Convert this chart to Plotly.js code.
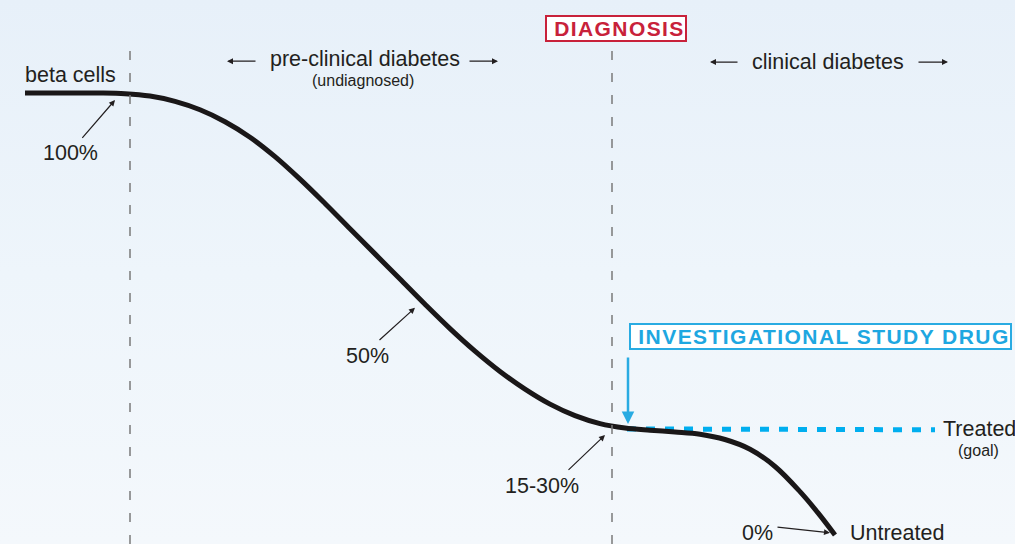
<!DOCTYPE html>
<html>
<head>
<meta charset="utf-8">
<script src="https://cdn.plot.ly/plotly-3.0.1.min.js"></script>
<style>
html,body{margin:0;padding:0;}
body{width:1015px;height:544px;overflow:hidden;background:linear-gradient(to bottom,#e7f0f9 0%,#eef5fb 50%,#f4f8fc 100%);}
#chart{width:1015px;height:544px;}
</style>
</head>
<body>
<div id="chart"></div>
<script>
// Time (arbitrary units) and remaining beta-cell mass (%)
var timeUntreated = [25, 50, 75, 100, 125, 150, 175, 200, 225, 250, 275, 300, 325, 350, 375, 400, 425, 450, 475, 500, 525, 550, 575, 600, 625, 650, 675, 700, 725, 750, 775, 800, 818, 835];
var betaUntreated = [100, 100, 100, 100, 99.85, 99.3, 98.1, 96.2, 93.5, 90.0, 85.6, 80.5, 75.0, 69.3, 63.6, 57.9, 52.2, 46.7, 41.6, 37.0, 33.0, 29.6, 27.0, 25.2, 24.2, 23.7, 23.3, 22.8, 21.6, 19.4, 15.5, 9.8, 5.0, 0];
var timeTreated = [627, 935];
var betaTreated = [24.0, 23.8];
var phaseBoundaries = [130, 612];

var font = "Liberation Sans, Arial, Helvetica, sans-serif";
var ink = "#231f20";
var fs = 21.5, fsSmall = 16;

var traces = [
  {x: timeTreated, y: betaTreated, mode: "lines", line: {color: "#00aeef", width: 5, dash: "9px,10px"}, hoverinfo: "skip"},
  {x: timeUntreated, y: betaUntreated, mode: "lines", line: {color: "#1a1718", width: 5, shape: "spline", smoothing: 1}, hoverinfo: "skip"}
];

function txt(x, y, t, size, anchor, extra) {
  var a = {x: x, y: y, xref: "x", yref: "y", text: t, showarrow: false, xanchor: anchor || "center", yanchor: "middle",
           font: {family: font, size: size, color: ink}};
  if (extra) for (var k in extra) a[k] = extra[k];
  return a;
}
function arr(hx, hy, tx, ty, color, w, size) {
  return {x: hx, y: hy, ax: tx, ay: ty, xref: "x", yref: "y", axref: "x", ayref: "y", text: "", showarrow: true,
          arrowhead: 2, arrowsize: size || 1, arrowwidth: w || 1.2, arrowcolor: color || ink, standoff: 0, startstandoff: 0};
}

var annotations = [
  txt(23, 104.1, "beta cells", fs, "left"),
  txt(70, 86.4, "100%", fs),
  arr(115, 98.4, 81, 89.5),
  txt(365, 107.6, "pre-clinical diabetes", fs),
  txt(363, 102.9, "(undiagnosed)", fsSmall),
  arr(227, 107.2, 257, 107.2),
  arr(498, 107.2, 468, 107.2),
  txt(828, 107.0, "clinical diabetes", fs),
  arr(710, 107.0, 739, 107.0),
  arr(948, 107.0, 917, 107.0),
  txt(616, 114.6, '<b><span style="letter-spacing:1.4px">&nbsp;DIAGNOSIS</span></b>', 21, "center",
      {font: {family: font, size: 21, color: "#c8213a"}, bgcolor: "#ffffff", bordercolor: "#c8213a", borderwidth: 2, borderpad: 0}),
  txt(367, 40.5, "50%", fs),
  arr(415, 51.4, 378, 43.8),
  txt(542, 11.1, "15-30%", fs),
  arr(605, 22.6, 567, 14.4),
  txt(757, 0.5, "0%", fs),
  arr(830, 0.5, 776, 1.8),
  txt(848, 0.5, "Untreated", fs, "left"),
  txt(941, 24.0, "Treated", fs, "left"),
  txt(978, 19.2, "(goal)", fsSmall),
  txt(820, 45.0, '<b><span style="letter-spacing:1.45px">&nbsp;INVESTIGATIONAL STUDY DRUG</span></b>', 21, "center",
      {font: {family: font, size: 21, color: "#1ea7e1"}, bgcolor: "#ffffff", bordercolor: "#29abe2", borderwidth: 2, borderpad: 0}),
  arr(628, 25.1, 628, 40.5, "#29abe2", 2.5, 1)
];

var shapes = phaseBoundaries.map(function (b) {
  return {type: "line", xref: "x", yref: "paper", x0: b, x1: b, y0: 0, y1: 0.918,
          line: {color: "#7a7a7a", width: 1.5, dash: "9px,13px"}};
});

var layout = {
  width: 1015, height: 544,
  margin: {l: 0, r: 0, t: 0, b: 0},
  paper_bgcolor: "rgba(0,0,0,0)", plot_bgcolor: "rgba(0,0,0,0)",
  showlegend: false,
  xaxis: {range: [0, 1015], visible: false, fixedrange: true},
  yaxis: {range: [-2.04, 121.04], visible: false, fixedrange: true},
  annotations: annotations,
  shapes: shapes
};

Plotly.newPlot("chart", traces, layout, {staticPlot: true, displayModeBar: false});
</script>
</body>
</html>
